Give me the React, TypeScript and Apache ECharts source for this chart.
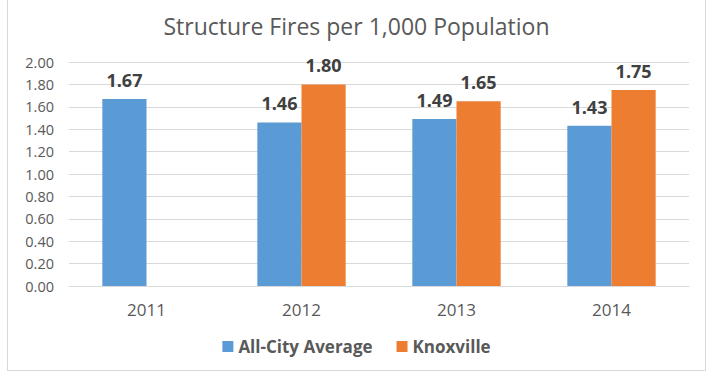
import React, { useEffect, useRef } from "react";
import * as echarts from "echarts";

const categories = ["2011", "2012", "2013", "2014"];
const allCityAverage = [1.67, 1.46, 1.49, 1.43];
const knoxville = [null, 1.8, 1.65, 1.75];
const seriesNames = ["All-City Average", "Knoxville"];
const titleText = "Structure Fires per 1,000 Population";

export default function App() {
  const ref = useRef<HTMLDivElement>(null);
  useEffect(() => {
    const chart = echarts.init(ref.current!, null, { renderer: "svg" });
    const font = "'Open Sans', 'Liberation Sans', sans-serif";
    const labelStyle = {
      show: true,
      position: "top",
      distance: 10,
      fontFamily: font,
      fontSize: 18,
      fontWeight: "bold",
      color: "#404040",
    };
    chart.setOption({
      animation: false,
      backgroundColor: "#ffffff",
      title: {
        text: titleText,
        left: "center",
        top: 9,
        textStyle: { fontFamily: font, fontSize: 23, fontWeight: "normal", color: "#595959" },
      },
      legend: {
        data: seriesNames,
        bottom: 10,
        left: "center",
        itemWidth: 11,
        itemHeight: 11,
        itemGap: 24,
        icon: "rect",
        textStyle: { fontFamily: font, fontSize: 17, fontWeight: "bold", color: "#595959" },
      },
      grid: { left: 61, right: 16, top: 62, bottom: 84 },
      xAxis: {
        type: "category",
        data: categories,
        axisTick: { show: false },
        axisLine: { lineStyle: { color: "#d9d9d9" } },
        axisLabel: { fontFamily: font, fontSize: 17, color: "#595959", margin: 15 },
      },
      yAxis: {
        type: "value",
        min: 0,
        max: 2,
        interval: 0.2,
        axisLabel: {
          fontFamily: font,
          fontSize: 14.5,
          color: "#595959",
          margin: 15,
          formatter: (v: number) => v.toFixed(2),
        },
        splitLine: { lineStyle: { color: "#d9d9d9" } },
        axisLine: { show: false },
        axisTick: { show: false },
      },
      series: [
        {
          name: seriesNames[0],
          type: "bar",
          data: allCityAverage,
          barGap: "0%",
          barCategoryGap: "43%",
          itemStyle: { color: "#5b9bd5" },
          label: { ...labelStyle, formatter: (p: any) => Number(p.value).toFixed(2) },
        },
        {
          name: seriesNames[1],
          type: "bar",
          data: knoxville,
          barGap: "0%",
          barCategoryGap: "43%",
          itemStyle: { color: "#ed7d31" },
          label: {
            ...labelStyle,
            formatter: (p: any) => (p.value == null ? "" : Number(p.value).toFixed(2)),
          },
        },
      ],
    });
    return () => chart.dispose();
  }, []);
  return (
    <div style={{ position: "absolute", left: 0, top: 0, width: 715, height: 375, background: "#fff" }}>
      <div
        style={{
          position: "absolute",
          left: 7,
          top: -1,
          width: 699,
          height: 372,
          border: "1px solid #d9d9d9",
          boxSizing: "border-box",
        }}
      />
      <div ref={ref} style={{ position: "absolute", left: 8, top: 0, width: 697, height: 370 }} />
    </div>
  );
}
